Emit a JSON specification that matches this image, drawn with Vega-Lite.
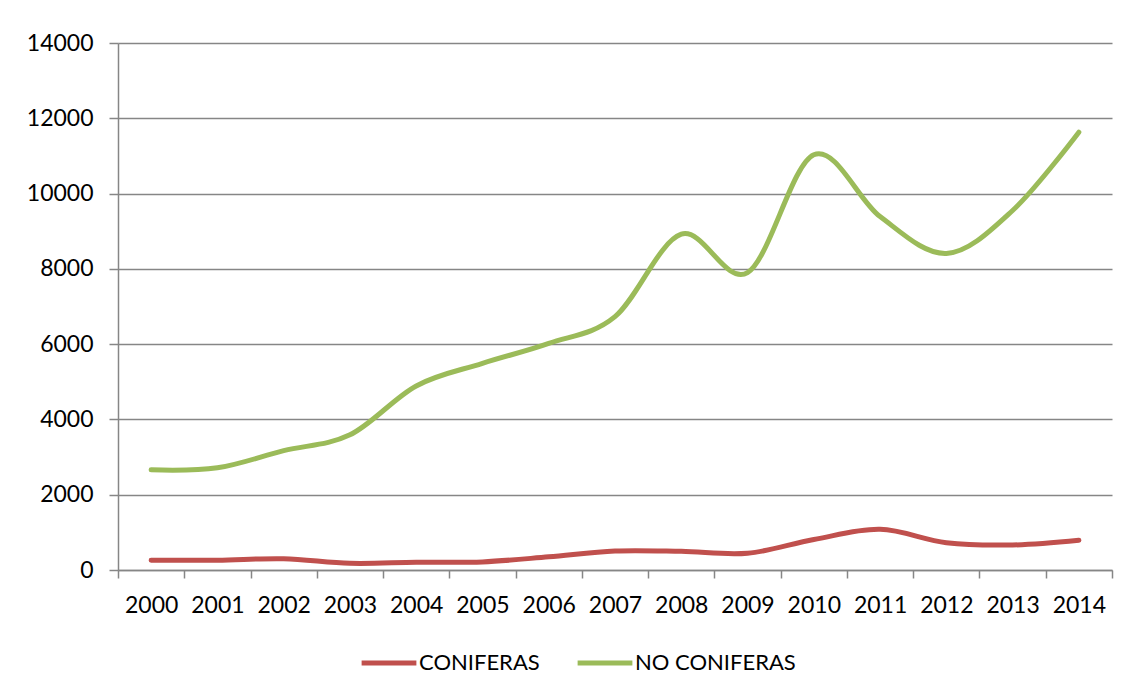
{
  "$schema": "https://vega.github.io/schema/vega-lite/v6.json",
  "width": 994,
  "height": 527,
  "autosize": {"type": "none"},
  "padding": {"left": 118, "top": 43, "right": 17, "bottom": 125},
  "background": "white",
  "config": {
    "view": {"stroke": null},
    "font": "Lato",
    "axis": {"labelFont": "Lato", "labelFontSize": 23, "labelColor": "#000000", "domainColor": "#868686", "tickColor": "#868686", "gridColor": "#868686", "domainWidth": 1.5, "tickWidth": 1.5, "gridWidth": 1.3, "title": null},
    "legend": {"labelFont": "Lato", "labelFontSize": 22, "labelColor": "#000000", "labelLimit": 400}
  },
  "data": {
    "values": [
      {"year": "2000", "serie": "CONIFERAS", "valor": 260},
      {"year": "2001", "serie": "CONIFERAS", "valor": 262},
      {"year": "2002", "serie": "CONIFERAS", "valor": 300},
      {"year": "2003", "serie": "CONIFERAS", "valor": 178},
      {"year": "2004", "serie": "CONIFERAS", "valor": 205},
      {"year": "2005", "serie": "CONIFERAS", "valor": 215},
      {"year": "2006", "serie": "CONIFERAS", "valor": 350},
      {"year": "2007", "serie": "CONIFERAS", "valor": 505},
      {"year": "2008", "serie": "CONIFERAS", "valor": 495},
      {"year": "2009", "serie": "CONIFERAS", "valor": 445},
      {"year": "2010", "serie": "CONIFERAS", "valor": 810},
      {"year": "2011", "serie": "CONIFERAS", "valor": 1080},
      {"year": "2012", "serie": "CONIFERAS", "valor": 725},
      {"year": "2013", "serie": "CONIFERAS", "valor": 665},
      {"year": "2014", "serie": "CONIFERAS", "valor": 790},
      {"year": "2000", "serie": "NO CONIFERAS", "valor": 2660},
      {"year": "2001", "serie": "NO CONIFERAS", "valor": 2715},
      {"year": "2002", "serie": "NO CONIFERAS", "valor": 3170},
      {"year": "2003", "serie": "NO CONIFERAS", "valor": 3590},
      {"year": "2004", "serie": "NO CONIFERAS", "valor": 4890},
      {"year": "2005", "serie": "NO CONIFERAS", "valor": 5490},
      {"year": "2006", "serie": "NO CONIFERAS", "valor": 6020},
      {"year": "2007", "serie": "NO CONIFERAS", "valor": 6730},
      {"year": "2008", "serie": "NO CONIFERAS", "valor": 8920},
      {"year": "2009", "serie": "NO CONIFERAS", "valor": 7900},
      {"year": "2010", "serie": "NO CONIFERAS", "valor": 11030},
      {"year": "2011", "serie": "NO CONIFERAS", "valor": 9390},
      {"year": "2012", "serie": "NO CONIFERAS", "valor": 8410},
      {"year": "2013", "serie": "NO CONIFERAS", "valor": 9550},
      {"year": "2014", "serie": "NO CONIFERAS", "valor": 11630}
    ]
  },
  "mark": {"type": "line", "interpolate": "cardinal", "strokeWidth": 5, "strokeCap": "round", "strokeJoin": "round"},
  "encoding": {
    "x": {
      "field": "year", "type": "ordinal", "bandPosition": 0.5,
      "scale": {"type": "band", "paddingInner": 0, "paddingOuter": 0},
      "axis": {"labelAngle": 0, "tickBand": "extent", "tickSize": 8, "labelPadding": 16, "grid": false}
    },
    "y": {
      "field": "valor", "type": "quantitative",
      "scale": {"domain": [0, 14000], "nice": false},
      "axis": {"values": [0, 2000, 4000, 6000, 8000, 10000, 12000, 14000], "format": "d", "tickSize": 9, "labelPadding": 16, "grid": true}
    },
    "color": {
      "field": "serie", "type": "nominal",
      "scale": {"domain": ["CONIFERAS", "NO CONIFERAS"], "range": ["#C0504D", "#9BBB59"]},
      "legend": {"title": null, "orient": "none", "legendX": 241, "legendY": 590, "direction": "horizontal", "symbolType": "stroke", "symbolSize": 3000, "symbolStrokeWidth": 5, "labelOffset": 0, "columnPadding": 27, "padding": 0}
    }
  }
}
